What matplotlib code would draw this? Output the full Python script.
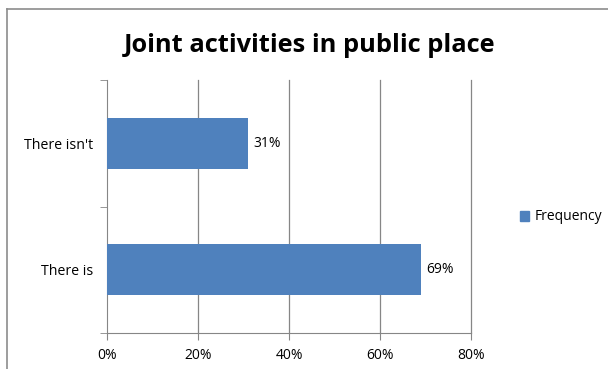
import matplotlib.pyplot as plt
from matplotlib.lines import Line2D
from matplotlib.patches import Patch

categories = ["There is", "There isn't"]
values = [69, 31]
xticks = [0, 20, 40, 60, 80]
bar_color = "#4F81BD"
grid_color = "#868686"

plt.rcParams['font.family'] = ['Open Sans', 'DejaVu Sans']

fig = plt.figure(figsize=(6.08, 3.69), dpi=100)
ax = fig.add_axes([107 / 608, 1 - 333 / 369, 364 / 608, 253 / 369])

# chart frame (top and left edges visible)
fig.add_artist(Line2D([7 / 608, 1], [1 - 9 / 369] * 2, color="#8c8c8c", lw=1.2,
                      transform=fig.transFigure))
fig.add_artist(Line2D([7 / 608] * 2, [0, 1 - 9 / 369], color="#8c8c8c", lw=1.2,
                      transform=fig.transFigure))

ypos = range(len(categories))
bars = ax.barh(ypos, values, height=0.4, color=bar_color, zorder=3, label="Frequency")
for b, v in zip(bars, values):
    ax.text(b.get_width() + 1.2, b.get_y() + b.get_height() / 2, f"{v}%",
            va="center", ha="left", fontsize=10, color="black")

ax.set_xlim(0, 80)
ax.set_ylim(-0.5, 1.5)
ax.set_xticks(xticks)
ax.set_xticklabels([f"{t}%" for t in xticks], fontsize=10)
ax.set_yticks(list(ypos))
ax.set_yticklabels(categories, fontsize=10.2)
ax.set_yticks([-0.5, 0.5, 1.5], minor=True)
ax.tick_params(axis="y", which="major", length=0, pad=10)
ax.tick_params(axis="y", which="minor", length=5, color=grid_color)
ax.tick_params(axis="x", length=5, color=grid_color, pad=6)
for t in xticks[1:]:
    ax.axvline(t, color=grid_color, lw=0.9, zorder=0, clip_on=False)
for s in ["top", "right"]:
    ax.spines[s].set_visible(False)
for s in ["left", "bottom"]:
    ax.spines[s].set_color(grid_color)

fig.text(310 / 608, 1 - 45 / 369, "Joint activities in public place",
         ha="center", va="center", fontsize=18.3, fontweight="bold")

fig.legend(handles=[Patch(color=bar_color, label="Frequency")],
           loc="center left", bbox_to_anchor=(507 / 608, 1 - 217 / 369),
           frameon=False, fontsize=10, handlelength=0.7, handleheight=0.7,
           handletextpad=0.4)

fig.savefig("out.png", dpi=100)
